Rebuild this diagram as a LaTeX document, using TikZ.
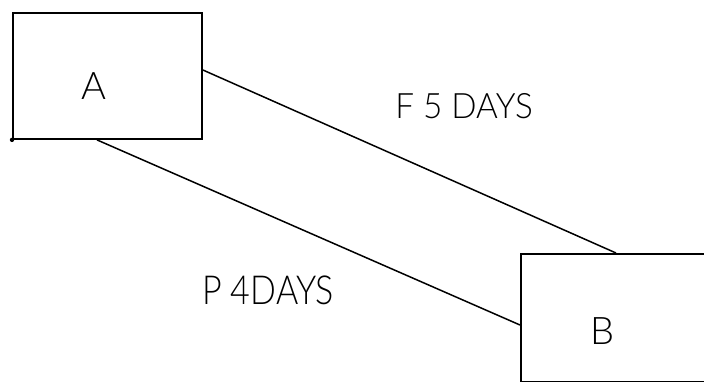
\documentclass[tikz,border=0pt]{standalone}
\usepackage{fontspec}
\setmainfont{Lato Light}
\usetikzlibrary{calc}
\begin{document}
\begin{tikzpicture}[x=1pt,y=-1pt,
  box/.style={draw, line width=1.9pt, inner sep=0pt, anchor=north west},
  link/.style={line width=1.5pt},
  tag/.style={inner sep=0pt, font=\fontsize{38}{40}\selectfont},
  note/.style={inner sep=0pt}]
\useasboundingbox (0,0) rectangle (704,382);
\clip (0,0) rectangle (704,382);
% the two activity boxes
\node[box, minimum width=189pt, minimum height=126pt] (A) at (12,12) {};
\node[box, minimum width=210pt, minimum height=128pt] (B) at (520,253) {};
\node[tag] (la) at (94,86) {A};
\node[tag] (lb) at (603,331) {B};
% dependency links
\draw[link] (A.east |- {(0,70)}) -- (B.north -| {(616,0)});
\draw[link] (A.south -| {(97,0)}) -- (B.west |- {(0,325)});
\fill (A.south west) circle (2.2pt);
% link labels
\node[note, font=\fontsize{35}{38}\selectfont] (f) at (464,106) {\scalebox{0.95}[1]{F 5 DAYS}};
\node[note, font=\fontsize{40}{42}\selectfont] (p) at (268,290) {\scalebox{0.85}[1]{P 4DAYS}};
\end{tikzpicture}
\end{document}
